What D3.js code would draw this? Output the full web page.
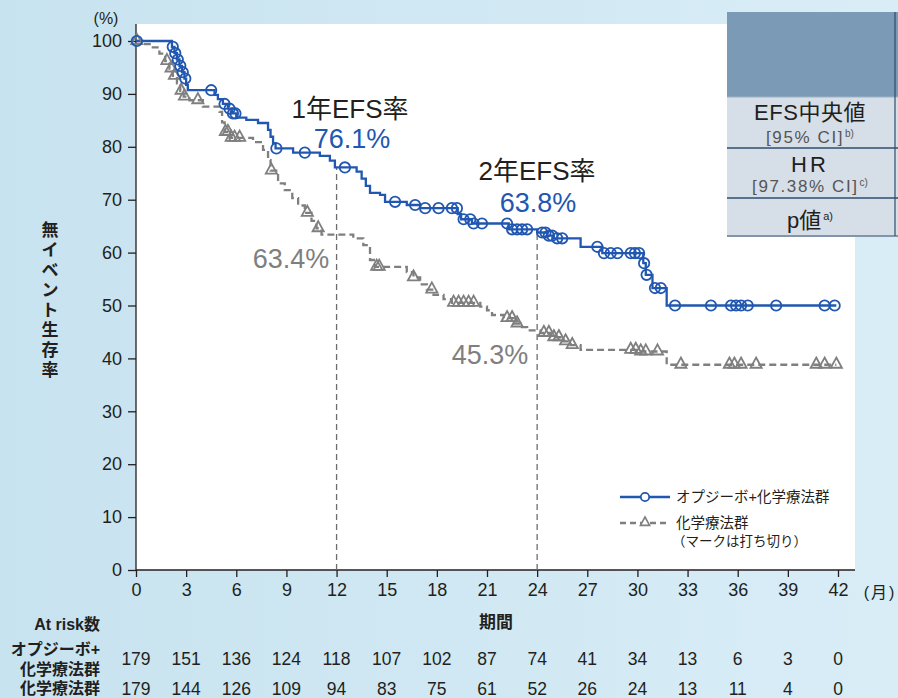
<!DOCTYPE html>
<html>
<head>
<meta charset="utf-8">
<script src="https://cdn.jsdelivr.net/npm/d3@7/dist/d3.min.js"></script>
<style>
  html, body { margin: 0; padding: 0; }
  svg { display: block; font-family: "Liberation Sans", "Noto Sans CJK JP", sans-serif; }
</style>
</head>
<body>
<svg id="chart" width="898" height="698"></svg>
<script>
// Axis ticks
const monthTicks = [0, 3, 6, 9, 12, 15, 18, 21, 24, 27, 30, 33, 36, 39, 42];
const pctTicks = [0, 10, 20, 30, 40, 50, 60, 70, 80, 90, 100];

// Opdivo + chemotherapy: Kaplan-Meier steps (month, EFS %)
const nivoTime = [0, 2.15, 2.3, 2.45, 2.6, 2.75, 2.9, 3.0, 3.1, 4.7, 4.9, 5.2, 5.5, 5.75, 6.0,
  6.6, 7.3, 7.9, 8.05, 8.2, 8.35, 9.4, 11.0, 11.6, 11.9, 13.2, 13.5, 13.75, 14.0, 14.6,
  14.9, 16.2, 17.0, 19.25, 19.45, 20.1, 22.3, 24.0, 24.6, 25.0, 26.6, 27.9, 30.35, 30.5, 30.9, 31.75];
const nivoSurv = [100, 98.9, 97.7, 96.5, 95.3, 94.1, 92.9, 91.7, 90.7, 89.8, 89.0, 88.1, 87.2, 86.3, 85.5,
  85.1, 84.5, 83.2, 81.9, 80.7, 79.7, 78.9, 78.3, 77.4, 76.1, 75.3, 74.0, 72.6, 71.3, 70.9,
  69.6, 69.0, 68.4, 67.3, 66.3, 65.5, 64.4, 63.8, 63.2, 62.7, 61.1, 59.9, 58.0, 55.8, 53.3, 50.0];
const nivoCensor = [0.05, 2.2, 2.35, 2.5, 2.65, 2.8, 2.95, 4.5, 5.3, 5.6, 5.8, 5.95, 8.4, 10.1, 12.5,
  15.5, 16.7, 17.3, 18.1, 18.9, 19.2, 19.6, 20.0, 20.2, 20.7, 22.2, 22.5, 22.8, 23.1, 23.4,
  24.3, 24.5, 24.7, 24.9, 25.2, 25.5, 27.6, 28.0, 28.4, 28.8, 29.6, 29.85, 30.1, 30.4, 30.55,
  31.05, 31.4, 32.25, 34.4, 35.6, 35.9, 36.2, 36.6, 38.3, 41.2, 41.8];
const nivoEnd = 41.9;

// Chemotherapy alone: Kaplan-Meier steps (month, EFS %)
const chemoTime = [0, 0.4, 0.9, 1.4, 1.75, 2.0, 2.2, 2.45, 2.65, 2.85, 3.2, 4.0, 5.0, 5.15, 5.3,
  5.6, 7.0, 7.6, 7.9, 8.05, 8.5, 8.9, 9.35, 9.7, 10.1, 10.5, 10.8, 11.1, 13.0, 13.6,
  14.0, 14.3, 16.2, 16.6, 17.0, 17.4, 17.8, 18.4, 18.9, 20.6, 21.0, 21.3, 22.0, 22.6, 23.0,
  23.4, 24.2, 24.8, 25.4, 26.0, 26.6, 30.0, 31.75];
const chemoSurv = [100, 99.4, 98.8, 97.6, 96.2, 94.8, 93.4, 92.0, 90.6, 89.5, 88.8, 87.6, 86.6, 84.6, 82.8,
  81.7, 80.9, 79.4, 77.5, 75.5, 73.1, 71.8, 70.3, 68.9, 67.5, 66.0, 64.6, 63.4, 62.7, 61.4,
  58.6, 57.3, 56.3, 55.3, 54.0, 53.0, 52.0, 51.2, 50.5, 49.8, 49.1, 48.2, 47.6, 46.6, 45.9,
  45.3, 44.8, 44.0, 43.2, 42.5, 41.6, 41.3, 38.8];
const chemoCensor = [0.05, 1.85, 2.1, 2.3, 2.7, 2.9, 3.7, 5.35, 5.5, 5.7, 5.9, 6.2, 8.1, 10.25, 10.9,
  14.4, 14.55, 16.6, 17.7, 19.0, 19.3, 19.6, 19.9, 20.2, 22.2, 22.5, 22.8, 24.4, 24.7, 25.0,
  25.3, 25.7, 26.1, 29.6, 29.9, 30.2, 30.5, 31.2, 32.6, 35.5, 35.8, 36.2, 37.1, 40.7, 41.2, 41.9];
const chemoEnd = 41.9;

// Landmark rates
const landmarkMonths = [12, 24];
const landmarkTitles = ["1年EFS率", "2年EFS率"];
const nivoLandmark = [76.1, 63.8];
const chemoLandmark = [63.4, 45.3];

// Numbers at risk
const riskNivo = [179, 151, 136, 124, 118, 107, 102, 87, 74, 41, 34, 13, 6, 3, 0];
const riskChemo = [179, 144, 126, 109, 94, 83, 75, 61, 52, 26, 24, 13, 11, 4, 0];

const BLUE = "#2157b0";
const GRAY = "#7f7f7f";
const TEXT = "#231f20";

const svg = d3.select("#chart");

// Background
const defs = svg.append("defs");
const grad = defs.append("linearGradient").attr("id", "bg").attr("x1", 0).attr("x2", 1).attr("y1", 0).attr("y2", 0);
grad.append("stop").attr("offset", 0).attr("stop-color", "#c7e3ef");
grad.append("stop").attr("offset", 1).attr("stop-color", "#d9edf7");
svg.append("rect").attr("width", 898).attr("height", 698).attr("fill", "url(#bg)");

const x = d3.scaleLinear().domain([0, 42]).range([136, 838]);
const y = d3.scaleLinear().domain([0, 100]).range([570, 41]);

// Plot panel
svg.append("rect").attr("x", 136).attr("y", 24).attr("width", 719).attr("height", 546).attr("fill", "#ffffff");

// Y axis
const yAxis = svg.append("g").attr("transform", "translate(136,0)")
  .call(d3.axisLeft(y).tickValues(pctTicks).tickSize(8).tickPadding(6));
yAxis.select(".domain").attr("d", "M0,24V570").attr("stroke", TEXT).attr("stroke-width", 1.3);
yAxis.selectAll(".tick line").attr("stroke", TEXT).attr("stroke-width", 1.3);
yAxis.selectAll(".tick text").attr("font-size", 18).attr("fill", TEXT)
  .attr("font-family", "Liberation Sans, sans-serif");

// X axis
const xAxis = svg.append("g").attr("transform", "translate(0,570)")
  .call(d3.axisBottom(x).tickValues(monthTicks).tickSize(7).tickPadding(6));
xAxis.select(".domain").attr("d", "M136,0H855").attr("stroke", TEXT).attr("stroke-width", 1.3);
xAxis.selectAll(".tick line").attr("stroke", TEXT).attr("stroke-width", 1.3);
xAxis.selectAll(".tick text").attr("font-size", 18).attr("fill", TEXT)
  .attr("font-family", "Liberation Sans, sans-serif");

svg.append("text").attr("x", 106).attr("y", 24).attr("text-anchor", "middle")
  .attr("font-size", 16).attr("fill", TEXT).text("(%)");
svg.append("text").attr("x", 880).attr("y", 598).attr("text-anchor", "middle")
  .attr("font-size", 16).attr("fill", TEXT).attr("letter-spacing", 2).text("(月)");
svg.append("text").attr("x", 496).attr("y", 628).attr("text-anchor", "middle")
  .attr("font-size", 17).attr("font-weight", "bold").attr("fill", TEXT).text("期間");

// Vertical y-axis title, one character per line
const yTitle = "無イベント生存率";
const yTitleText = svg.append("text").attr("font-size", 17).attr("font-weight", "bold")
  .attr("fill", TEXT).attr("text-anchor", "middle");
Array.from(yTitle).forEach((ch, i) => {
  yTitleText.append("tspan").attr("x", 50).attr("y", 236 + i * 20).text(ch);
});

// Step curves
function stepPoints(times, surv, end) {
  const pts = times.map((t, i) => [t, surv[i]]);
  pts.push([end, surv[surv.length - 1]]);
  return pts;
}
function survAt(times, surv, t) {
  const i = d3.bisectRight(times, t) - 1;
  return surv[Math.max(0, i)];
}
const line = d3.line().x(d => x(d[0])).y(d => y(d[1])).curve(d3.curveStepAfter);

// Landmark guides
landmarkMonths.forEach((m, i) => {
  svg.append("line").attr("x1", x(m)).attr("x2", x(m))
    .attr("y1", y(0)).attr("y2", y(nivoLandmark[i]))
    .attr("stroke", "#6d6d6d").attr("stroke-width", 1.3).attr("stroke-dasharray", "6,4");
});

svg.append("path").datum(stepPoints(chemoTime, chemoSurv, chemoEnd)).attr("d", line)
  .attr("fill", "none").attr("stroke", GRAY).attr("stroke-width", 2.3).attr("stroke-dasharray", "7,4");
svg.append("path").datum(stepPoints(nivoTime, nivoSurv, nivoEnd)).attr("d", line)
  .attr("fill", "none").attr("stroke", BLUE).attr("stroke-width", 2.3);

const triPath = "M0,-6.2L5.6,4L-5.6,4Z";
svg.append("g").selectAll("path").data(chemoCensor).join("path")
  .attr("d", triPath)
  .attr("transform", t => `translate(${x(t)},${y(survAt(chemoTime, chemoSurv, t)) - 1})`)
  .attr("fill", "none").attr("stroke", GRAY).attr("stroke-width", 1.8);
svg.append("g").selectAll("circle").data(nivoCensor).join("circle")
  .attr("cx", t => x(t)).attr("cy", t => y(survAt(nivoTime, nivoSurv, t)))
  .attr("r", 5.2).attr("fill", "none").attr("stroke", BLUE).attr("stroke-width", 1.8);

// Landmark labels
const titlePos = [[350, 118], [537, 180]];
const nivoPos = [[352, 148], [538, 212]];
const chemoPos = [[291, 268], [490, 364]];
landmarkMonths.forEach((m, i) => {
  svg.append("text").attr("x", titlePos[i][0]).attr("y", titlePos[i][1]).attr("text-anchor", "middle")
    .attr("font-size", 26).attr("fill", TEXT).text(landmarkTitles[i]);
  svg.append("text").attr("x", nivoPos[i][0]).attr("y", nivoPos[i][1]).attr("text-anchor", "middle")
    .attr("font-size", 27).attr("fill", BLUE).text(nivoLandmark[i].toFixed(1) + "%");
  svg.append("text").attr("x", chemoPos[i][0]).attr("y", chemoPos[i][1]).attr("text-anchor", "middle")
    .attr("font-size", 27).attr("fill", GRAY).text(chemoLandmark[i].toFixed(1) + "%");
});

// Legend
const lg = svg.append("g");
lg.append("line").attr("x1", 620).attr("x2", 670).attr("y1", 497).attr("y2", 497)
  .attr("stroke", BLUE).attr("stroke-width", 2.3);
lg.append("circle").attr("cx", 645).attr("cy", 497).attr("r", 4.2)
  .attr("fill", "#fff").attr("stroke", BLUE).attr("stroke-width", 1.8);
lg.append("text").attr("x", 676).attr("y", 502).attr("font-size", 14.5).attr("fill", TEXT)
  .text("オプジーボ+化学療法群");
lg.append("line").attr("x1", 620).attr("x2", 670).attr("y1", 523).attr("y2", 523)
  .attr("stroke", GRAY).attr("stroke-width", 2.3).attr("stroke-dasharray", "6,4");
lg.append("path").attr("d", "M0,-5L4.6,3.4L-4.6,3.4Z").attr("transform", "translate(645,522)")
  .attr("fill", "#fff").attr("stroke", GRAY).attr("stroke-width", 1.6);
lg.append("text").attr("x", 676).attr("y", 528).attr("font-size", 14.5).attr("fill", TEXT)
  .text("化学療法群");
lg.append("text").attr("x", 672).attr("y", 546).attr("font-size", 13.5).attr("fill", TEXT)
  .text("（マークは打ち切り）");

// Summary table shell
const tb = svg.append("g");
tb.append("rect").attr("x", 727).attr("y", 12).attr("width", 171).attr("height", 225).attr("fill", "#d6dee7");
tb.append("rect").attr("x", 727).attr("y", 12).attr("width", 171).attr("height", 85).attr("fill", "#7a9ab6");
[148, 198, 236].forEach(yy => {
  tb.append("line").attr("x1", 727).attr("x2", 898).attr("y1", yy).attr("y2", yy)
    .attr("stroke", "#2e4d6e").attr("stroke-width", yy === 236 ? 1.2 : 1.4);
});
tb.append("line").attr("x1", 727).attr("x2", 898).attr("y1", 97).attr("y2", 97)
  .attr("stroke", "#9fb2c4").attr("stroke-width", 1);
tb.append("line").attr("x1", 895).attr("x2", 895).attr("y1", 12).attr("y2", 236)
  .attr("stroke", "#2e4d6e").attr("stroke-width", 1.2);

const rowMain = [["EFS中央値", 120, 0.5], ["HR", 172, 3]];
const rowSub = [["[95% CI]", "b)", 143], ["[97.38% CI]", "c)", 192]];
rowMain.forEach(r => {
  tb.append("text").attr("x", 810).attr("y", r[1]).attr("text-anchor", "middle")
    .attr("font-size", 22).attr("letter-spacing", r[2]).attr("fill", TEXT).text(r[0]);
});
rowSub.forEach(r => {
  const t = tb.append("text").attr("x", 810).attr("y", r[2]).attr("text-anchor", "middle")
    .attr("font-size", 17).attr("letter-spacing", 1.6).attr("fill", "#555");
  t.append("tspan").text(r[0]);
  t.append("tspan").attr("font-size", 10).attr("letter-spacing", 0).attr("dy", -6).attr("dx", 1).text(r[1]);
});
const pv = tb.append("text").attr("x", 810).attr("y", 228).attr("text-anchor", "middle")
  .attr("font-size", 22).attr("fill", TEXT);
pv.append("tspan").text("p値");
pv.append("tspan").attr("font-size", 11).attr("dy", -8).attr("dx", 2).text("a)");

// Numbers at risk
const riskLabels = [["At risk数", 630], ["オプジーボ+", 655], ["化学療法群", 675], ["化学療法群", 694]];
riskLabels.forEach(r => {
  svg.append("text").attr("x", 100).attr("y", r[1]).attr("text-anchor", "end")
    .attr("font-size", 16).attr("font-weight", "bold").attr("fill", TEXT).text(r[0]);
});

svg.append("g").selectAll("text").data(riskNivo).join("text")
  .attr("x", (d, i) => x(monthTicks[i])).attr("y", 665).attr("text-anchor", "middle")
  .attr("font-size", 17.5).attr("fill", TEXT).text(d => d);
svg.append("g").selectAll("text").data(riskChemo).join("text")
  .attr("x", (d, i) => x(monthTicks[i])).attr("y", 695).attr("text-anchor", "middle")
  .attr("font-size", 17.5).attr("fill", TEXT).text(d => d);
</script>
</body>
</html>
